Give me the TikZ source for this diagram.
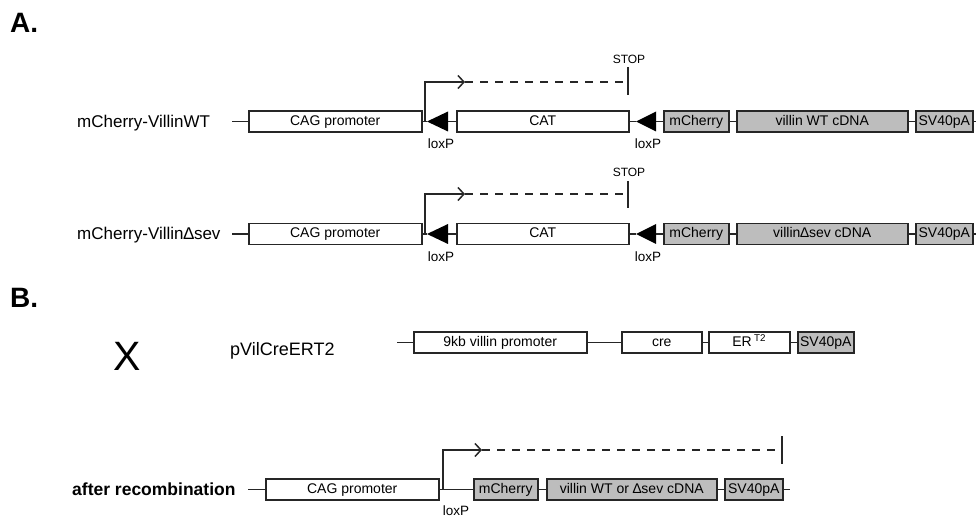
\documentclass[tikz,border=0pt]{standalone}
\usepackage{fontspec}
\setmainfont{Liberation Sans}
\usetikzlibrary{arrows.meta}
\definecolor{ln}{HTML}{262626}
\definecolor{gf}{HTML}{BDBDBD}
\begin{document}
\begin{tikzpicture}[x=1pt,y=-1pt,
  box/.style={draw=ln, line width=1.5pt, fill=white, inner sep=0pt, minimum height=21pt, anchor=west,
              font=\fontsize{14}{16}\selectfont, text height=10pt, text depth=2pt},
  gbox/.style={box, fill=gf},
  lbl/.style={anchor=base west, inner sep=0pt, font=\fontsize{17}{20}\selectfont},
  small/.style={inner sep=0pt, font=\fontsize{12}{14}\selectfont},
  loxlbl/.style={inner sep=0pt, font=\fontsize{13.5}{15}\selectfont},
  head/.style={anchor=west, inner sep=0pt, font=\fontsize{28}{30}\selectfont\bfseries},
  loxfill/.style={fill=black},
  link/.style={draw=ln, line width=1.5pt},
  prom/.style={draw=ln, line width=1.5pt, -{Straight Barb[length=6pt,width=13pt,line width=1.5pt]}},
  dsh/.style={draw=ln, line width=1.5pt, dash pattern=on 8pt off 7pt},
]
\useasboundingbox (0,0) rectangle (976,518);

% ---------- A ----------
\node[head] (A) at (10,22.5) {A.};

% Row 1
\node[lbl] (n1) at (77,127.5) {mCherry-VillinWT};
\coordinate (s1) at (232,121.5);
\node[box, minimum width=173pt] (cag1) at (248,121.5) {CAG promoter};
\coordinate (la1) at (427,121.5);
\coordinate (la1b) at (448,121.5);
\fill[loxfill] (la1) -- (448,111.5) -- (448,131.5) -- cycle;
\node[box, minimum width=172pt] (cat1) at (456,121.5) {CAT};
\coordinate (lb1) at (636,121.5);
\coordinate (lb1b) at (656,121.5);
\fill[loxfill] (lb1) -- (656,111.5) -- (656,131.5) -- cycle;
\node[gbox, minimum width=65pt] (mc1) at (663,121.5) {mCherry};
\node[gbox, minimum width=171pt] (vil1) at (736,121.5) {villin WT cDNA};
\node[gbox, minimum width=57pt] (sv1) at (915,121.5) {SV40pA};
\coordinate (e1) at (977,121.5);
\draw[link] (s1) -- (cag1.west);
\draw[link] (cag1.east) -- (la1);
\draw[link] (la1b) -- (cat1.west);
\draw[link] (cat1.east) -- (lb1);
\draw[link] (lb1b) -- (mc1.west);
\draw[link] (mc1.east) -- (vil1.west);
\draw[link] (vil1.east) -- (sv1.west);
\draw[link] (sv1.east) -- (e1);
\coordinate (p1) at (425,121.5);
\coordinate (pa1) at (465,82);
\coordinate (st1) at (628,82);
\coordinate (t1a) at (628,67);
\coordinate (t1b) at (628,95);
\draw[prom] (p1) |- (pa1);
\draw[dsh] (pa1) -- (st1);
\draw[link] (t1a) -- (t1b);
\node[small] (stop1) at (629,59) {STOP};
\node[loxlbl] (lx1a) at (441,144) {loxP};
\node[loxlbl] (lx1b) at (648,144) {loxP};

% Row 2
\node[lbl] (n2) at (77,240) {mCherry-Villin∆sev};
\coordinate (s2) at (232,234);
\node[box, minimum width=173pt] (cag2) at (248,234) {CAG promoter};
\coordinate (la2) at (427,234);
\coordinate (la2b) at (448,234);
\fill[loxfill] (la2) -- (448,224) -- (448,244) -- cycle;
\node[box, minimum width=172pt] (cat2) at (456,234) {CAT};
\coordinate (lb2) at (636,234);
\coordinate (lb2b) at (656,234);
\fill[loxfill] (lb2) -- (656,224) -- (656,244) -- cycle;
\node[gbox, minimum width=65pt] (mc2) at (663,234) {mCherry};
\node[gbox, minimum width=171pt] (vil2) at (736,234) {villin∆sev cDNA};
\node[gbox, minimum width=57pt] (sv2) at (915,234) {SV40pA};
\coordinate (e2) at (977,234);
\draw[link] (s2) -- (cag2.west);
\draw[link] (cag2.east) -- (la2);
\draw[link] (la2b) -- (cat2.west);
\draw[link] (cat2.east) -- (lb2);
\draw[link] (lb2b) -- (mc2.west);
\draw[link] (mc2.east) -- (vil2.west);
\draw[link] (vil2.east) -- (sv2.west);
\draw[link] (sv2.east) -- (e2);
\coordinate (p2) at (425,234);
\coordinate (pa2) at (465,194);
\coordinate (st2) at (628,194);
\coordinate (t2a) at (628,181);
\coordinate (t2b) at (628,208);
\draw[prom] (p2) |- (pa2);
\draw[dsh] (pa2) -- (st2);
\draw[link] (t2a) -- (t2b);
\node[small] (stop2) at (629,172) {STOP};
\node[loxlbl] (lx2a) at (441,257) {loxP};
\node[loxlbl] (lx2b) at (648,257) {loxP};

% ---------- B ----------
\node[head] (B) at (10,298) {B.};
\node[inner sep=0pt, font=\fontsize{41}{41}\selectfont] (X) at (127,356) {X};
\node[lbl, font=\fontsize{18}{20}\selectfont] (n3) at (230,355) {pVilCreERT2};
\coordinate (s3) at (397,342.5);
\node[box, minimum width=173pt] (vp) at (413,342.5) {9kb villin promoter};
\node[box, minimum width=80pt] (cre) at (621,342.5) {cre};
\node[box, minimum width=81pt] (er) at (708,342.5) {ER\,\textsuperscript{T2}};
\node[gbox, minimum width=56pt] (sv3) at (797,342.5) {SV40pA};
\draw[link] (s3) -- (vp.west);
\draw[link] (vp.east) -- (cre.west);
\draw[link] (cre.east) -- (er.west);
\draw[link] (er.east) -- (sv3.west);

% after recombination
\node[lbl, font=\fontsize{17.5}{20}\selectfont\bfseries] (n4) at (72,495.5) {after recombination};
\coordinate (s4) at (248,489.5);
\node[box, minimum width=173pt] (cag4) at (265,489.5) {CAG promoter};
\node[gbox, minimum width=64pt] (mc4) at (473,489.5) {mCherry};
\node[gbox, minimum width=170pt] (vil4) at (546,489.5) {villin WT or ∆sev cDNA};
\node[gbox, minimum width=58pt] (sv4) at (724,489.5) {SV40pA};
\coordinate (e4) at (790,489.5);
\draw[link] (s4) -- (cag4.west);
\draw[link] (cag4.east) -- (mc4.west);
\draw[link] (mc4.east) -- (vil4.west);
\draw[link] (vil4.east) -- (sv4.west);
\draw[link] (sv4.east) -- (e4);
\coordinate (p4) at (443,489.5);
\coordinate (pa4) at (482,450);
\coordinate (st4) at (782,450);
\coordinate (t4a) at (782,436);
\coordinate (t4b) at (782,464);
\draw[prom] (p4) |- (pa4);
\draw[dsh] (pa4) -- (st4);
\draw[link] (t4a) -- (t4b);
\node[loxlbl] (lx4) at (456,510.5) {loxP};
\end{tikzpicture}
\end{document}
